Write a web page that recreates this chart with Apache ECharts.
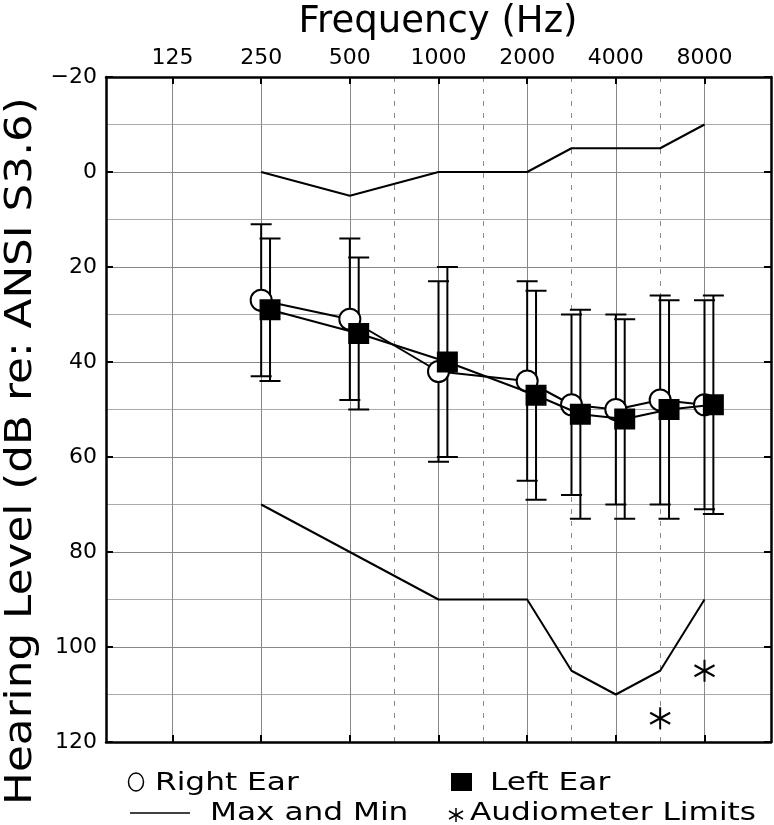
<!DOCTYPE html>
<html><head><meta charset="utf-8">
<script src="https://cdn.jsdelivr.net/npm/echarts@6/dist/echarts.min.js"></script>
<style>html,body{margin:0;padding:0;background:#fff}#c{width:774px;height:825px}</style>
</head><body><div id="c"></div>
<script>
// ---- data ----
const freqTicks = [125, 250, 500, 1000, 2000, 4000, 8000];
const halfOctaves = [750, 1500, 3000, 6000];
const freqs = [250, 500, 1000, 2000, 3000, 4000, 6000, 8000];
const rightEar = [27, 31, 42, 44, 49, 50, 48, 49];
const rightLow = [11, 14, 23, 23, 30, 30, 26, 27];
const rightHigh = [43, 48, 61, 65, 68, 70, 70, 71];
const leftEar = [29, 34, 40, 47, 51, 52, 50, 49];
const leftLow = [14, 18, 20, 25, 29, 31, 27, 26];
const leftHigh = [44, 50, 60, 69, 73, 73, 73, 72];
const maxLevels = [0, 5, 0, 0, -5, -5, -5, -10];
const minLevels = [70, 80, 90, 90, 105, 110, 105, 90];
const limitFreqs = [6000, 8000];
const limitLevels = [115, 105];

// audiogram position: octaves above 125 Hz, inter-octave frequencies at half-octave
function pos(f) { const o = Math.log2(f / 125); const r = Math.round(o); return Math.abs(o - r) < 1e-9 ? r : Math.floor(o) + 0.5; }
const LEFT_SHIFT = 0.1;
const FONT = '"DejaVu Sans", sans-serif';
const X_MIN = -0.75, X_MAX = 6.75;

const chart = echarts.init(document.getElementById('c'), null, {renderer: 'canvas'});

function errBar() {
  return function (params, api) {
    const x = api.value(0), lo = api.value(1), hi = api.value(2);
    const p1 = api.coord([x, lo]), p2 = api.coord([x, hi]);
    const hw = 10.5, st = {stroke: '#000', lineWidth: 2};
    return {type: 'group', children: [
      {type: 'line', shape: {x1: p1[0], y1: p1[1], x2: p2[0], y2: p2[1]}, style: st},
      {type: 'line', shape: {x1: p1[0] - hw, y1: p1[1], x2: p1[0] + hw, y2: p1[1]}, style: st},
      {type: 'line', shape: {x1: p2[0] - hw, y1: p2[1], x2: p2[0] + hw, y2: p2[1]}, style: st}
    ]};
  };
}
function asterisk(params, api) {
  const p = api.coord([api.value(0), api.value(1)]);
  const st = {stroke: '#000', lineWidth: 2};
  return {type: 'group', x: p[0], y: p[1], children: [
    {type: 'line', shape: {x1: 0, y1: -11, x2: 0, y2: 11}, style: st},
    {type: 'line', shape: {x1: -10, y1: -5.5, x2: 10, y2: 5.5}, style: st},
    {type: 'line', shape: {x1: -10, y1: 5.5, x2: 10, y2: -5.5}, style: st}
  ]};
}

const axisLineStyle = {color: '#000', width: 2.5};
const tickStyle = {color: '#000', width: 2};

const option = {
  animation: false,
  grid: {left: 106, top: 77, right: 3, bottom: 83, containLabel: false},
  xAxis: [
    {type: 'value', position: 'top', min: X_MIN, max: X_MAX,
     axisLine: {show: true, onZero: false, lineStyle: axisLineStyle},
     axisTick: {show: true, inside: true, length: 7, lineStyle: tickStyle, customValues: freqTicks.map(pos)},
     axisLabel: {show: true, margin: 8, color: '#000', fontFamily: FONT, fontSize: 22,
                 customValues: freqTicks.map(pos),
                 formatter: v => String(Math.round(125 * Math.pow(2, v)))},
     splitLine: {show: true, lineStyle: {color: '#888', width: 1}}},
    {type: 'value', position: 'bottom', min: X_MIN, max: X_MAX,
     axisLine: {show: true, onZero: false, lineStyle: axisLineStyle},
     axisTick: {show: true, inside: true, length: 7, lineStyle: tickStyle, customValues: freqTicks.map(pos)},
     axisLabel: {show: false},
     splitLine: {show: false}},
    {type: 'value', position: 'bottom', min: X_MIN, max: X_MAX,
     axisLine: {show: false},
     axisTick: {show: false, customValues: halfOctaves.map(pos)},
     axisLabel: {show: false, customValues: halfOctaves.map(pos)},
     splitLine: {show: true, lineStyle: {color: '#888', width: 1, type: [5, 7]}}}
  ],
  yAxis: [
    {type: 'value', inverse: true, min: -20, max: 120, interval: 20, position: 'left',
     axisLine: {show: true, onZero: false, lineStyle: axisLineStyle},
     axisTick: {show: true, inside: true, length: 7, lineStyle: tickStyle},
     axisLabel: {show: true, margin: 9, color: '#000', fontFamily: FONT, fontSize: 22,
                 formatter: v => String(v).replace('-', '\u2212')},
     splitLine: {show: true, lineStyle: {color: '#888', width: 1}},
     minorTick: {show: false, splitNumber: 2},
     minorSplitLine: {show: true, lineStyle: {color: '#aaa', width: 1}}},
    {type: 'value', inverse: true, min: -20, max: 120, interval: 20, position: 'right',
     axisLine: {show: true, onZero: false, lineStyle: axisLineStyle},
     axisTick: {show: true, inside: true, length: 7, lineStyle: tickStyle},
     axisLabel: {show: false},
     splitLine: {show: false}}
  ],
  series: [
    {name: 'Max', type: 'line', xAxisIndex: 0, yAxisIndex: 0, showSymbol: false, symbol: 'none',
     data: freqs.map((f, i) => [pos(f), maxLevels[i]]),
     lineStyle: {color: '#000', width: 2}, z: 2, silent: true},
    {name: 'Min', type: 'line', xAxisIndex: 0, yAxisIndex: 0, showSymbol: false, symbol: 'none',
     data: freqs.map((f, i) => [pos(f), minLevels[i]]),
     lineStyle: {color: '#000', width: 2}, z: 2, silent: true},
    {name: 'RightBars', type: 'custom', xAxisIndex: 0, yAxisIndex: 0, renderItem: errBar(),
     encode: {x: 0, y: [1, 2]}, z: 1, silent: true,
     data: freqs.map((f, i) => [pos(f), rightLow[i], rightHigh[i]])},
    {name: 'LeftBars', type: 'custom', xAxisIndex: 0, yAxisIndex: 0, renderItem: errBar(),
     encode: {x: 0, y: [1, 2]}, z: 1, silent: true,
     data: freqs.map((f, i) => [pos(f) + LEFT_SHIFT, leftLow[i], leftHigh[i]])},
    {name: 'Right Ear', type: 'line', xAxisIndex: 0, yAxisIndex: 0,
     data: freqs.map((f, i) => [pos(f), rightEar[i]]),
     symbol: 'circle', symbolSize: 21, showSymbol: true,
     itemStyle: {color: '#fff', borderColor: '#000', borderWidth: 2},
     lineStyle: {color: '#000', width: 2}, z: 3, silent: true},
    {name: 'Left Ear', type: 'line', xAxisIndex: 0, yAxisIndex: 0,
     data: freqs.map((f, i) => [pos(f) + LEFT_SHIFT, leftEar[i]]),
     symbol: 'rect', symbolSize: 21, showSymbol: true,
     itemStyle: {color: '#000', borderColor: '#000', borderWidth: 0},
     lineStyle: {color: '#000', width: 2}, z: 4, silent: true},
    {name: 'Audiometer Limits', type: 'custom', xAxisIndex: 0, yAxisIndex: 0, renderItem: asterisk,
     encode: {x: 0, y: 1}, z: 5, silent: true,
     data: limitFreqs.map((f, i) => [pos(f), limitLevels[i]])}
  ],
  graphic: [
    {type: 'text', x: 438, y: 22, style: {text: 'Frequency (Hz)', font: '37px ' + FONT, fill: '#000', align: 'center', verticalAlign: 'middle'}},
    {type: 'text', x: 21, y: 451, rotation: Math.PI / 2, scaleX: 1.15,
     style: {text: 'Hearing Level (dB re: ANSI S3.6)', font: '38px ' + FONT, fill: '#000', align: 'center', verticalAlign: 'middle'}},
    {type: 'ellipse', shape: {cx: 136, cy: 782, rx: 7.5, ry: 9}, style: {fill: '#fff', stroke: '#000', lineWidth: 1.5}},
    {type: 'text', x: 155, y: 784, scaleX: 1.3, style: {text: 'Right Ear', font: '24px ' + FONT, fill: '#000', verticalAlign: 'middle'}},
    {type: 'rect', shape: {x: 451, y: 773, width: 21, height: 18}, style: {fill: '#000'}},
    {type: 'text', x: 490, y: 784, scaleX: 1.3, style: {text: 'Left Ear', font: '24px ' + FONT, fill: '#000', verticalAlign: 'middle'}},
    {type: 'line', shape: {x1: 130, y1: 813, x2: 190, y2: 813}, style: {stroke: '#000', lineWidth: 1.5}},
    {type: 'text', x: 210, y: 814, scaleX: 1.3, style: {text: 'Max and Min', font: '24px ' + FONT, fill: '#000', verticalAlign: 'middle'}},
    {type: 'group', x: 456, y: 815, children: [
      {type: 'line', shape: {x1: 0, y1: -7, x2: 0, y2: 7}, style: {stroke: '#000', lineWidth: 1.5}},
      {type: 'line', shape: {x1: -7, y1: -4, x2: 7, y2: 4}, style: {stroke: '#000', lineWidth: 1.5}},
      {type: 'line', shape: {x1: -7, y1: 4, x2: 7, y2: -4}, style: {stroke: '#000', lineWidth: 1.5}}
    ]},
    {type: 'text', x: 470, y: 814, scaleX: 1.3, style: {text: 'Audiometer Limits', font: '24px ' + FONT, fill: '#000', verticalAlign: 'middle'}}
  ]
};
chart.setOption(option);
</script>
</body></html>
